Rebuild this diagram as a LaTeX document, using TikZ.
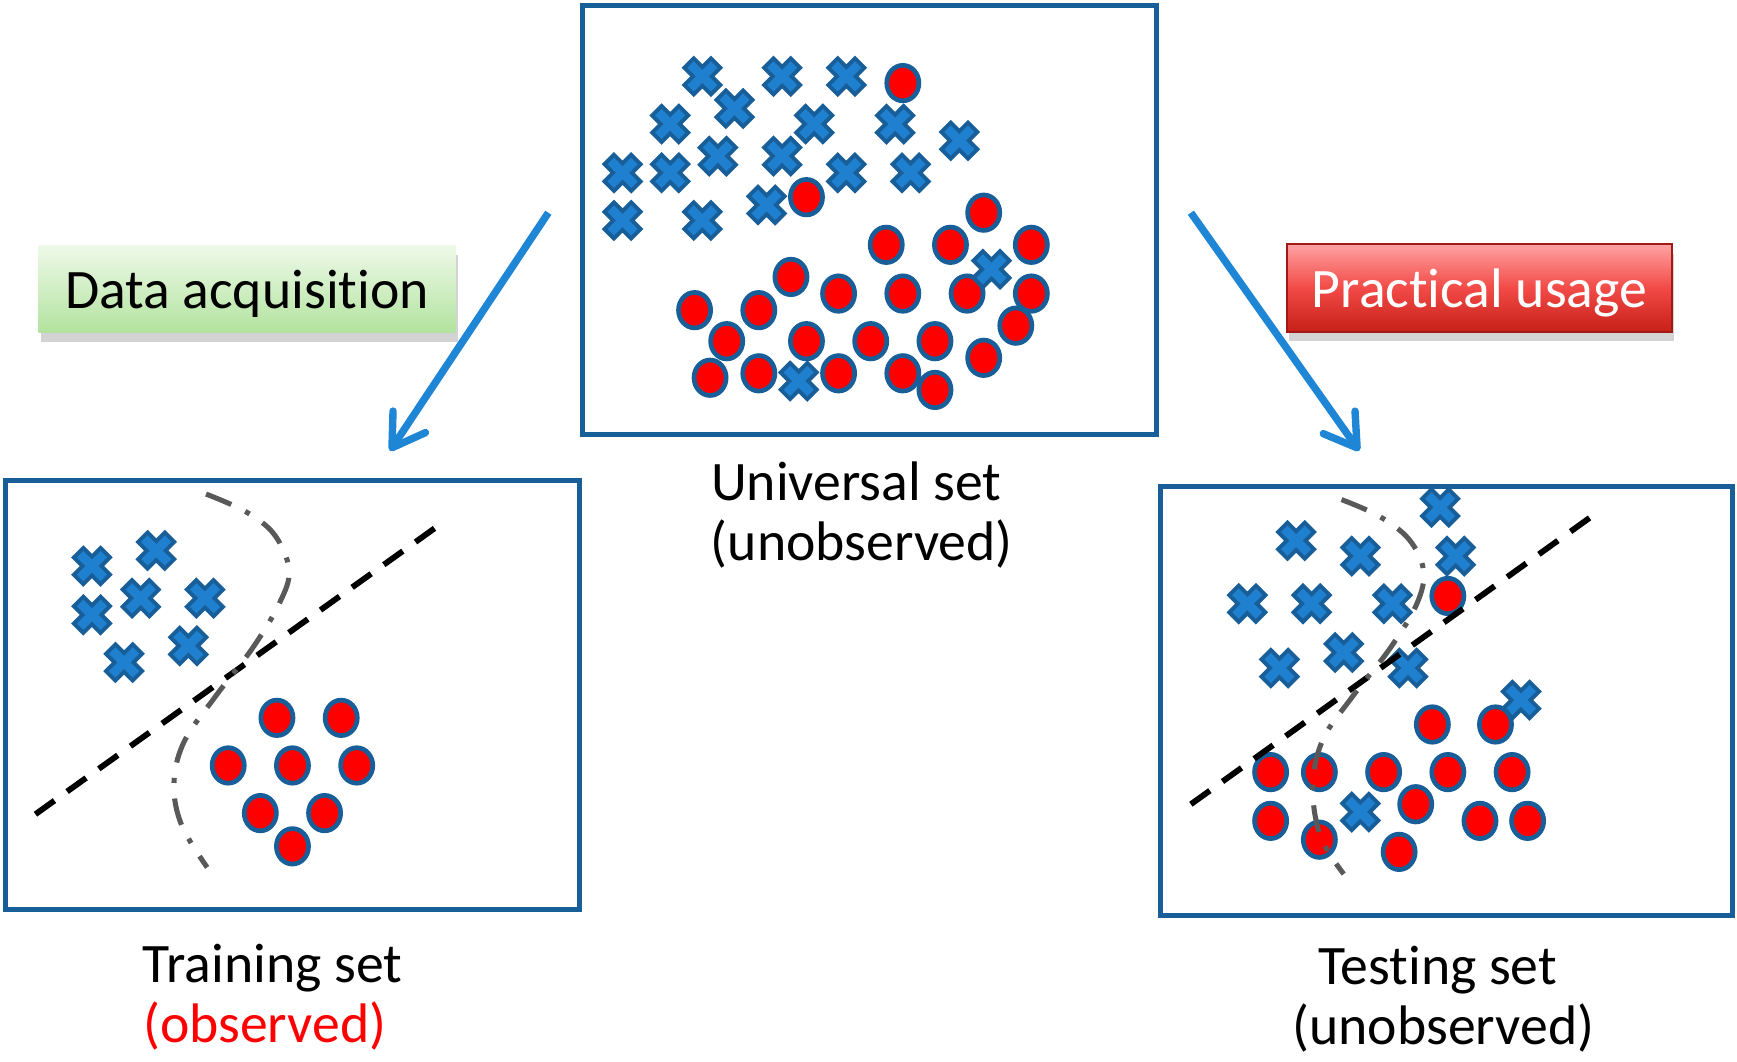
\documentclass[tikz,border=0pt]{standalone}
\usepackage{fontspec}
\setmainfont{Carlito}[Ligatures=NoCommon]
\usepackage{tikz}
\usetikzlibrary{arrows.meta, positioning, shadows}

\definecolor{frameblue}{RGB}{24,94,152}
\definecolor{crossfill}{RGB}{32,128,208}
\definecolor{arrowblue}{RGB}{31,134,214}
\definecolor{dotred}{RGB}{255,0,0}
\definecolor{curvegray}{RGB}{89,89,89}
\definecolor{greentop}{RGB}{238,249,233}
\definecolor{greenbot}{RGB}{178,227,158}
\definecolor{redtop}{RGB}{255,162,162}
\definecolor{redmid}{RGB}{242,74,70}
\definecolor{redbot}{RGB}{198,32,24}

\begin{document}
\begin{tikzpicture}[
        x=0.01cm, y=-0.01cm,
        font=\fontsize{14.3}{17}\selectfont,
        panel/.style={rectangle, draw=frameblue, line width=1.3pt, inner sep=0pt},
        tag/.style={rectangle, minimum height=0.79cm, inner sep=0pt, text height=11.5pt, text depth=1.3pt,
            drop shadow={shadow xshift=0.6pt, shadow yshift=-2.4pt, opacity=0.35}},
        caption/.style={anchor=base, inner sep=0pt},
        arrow/.style={draw=arrowblue, line width=1.9pt, -{Straight Barb[length=8pt, width=10pt, round]}},
        sample/.style={draw=frameblue, fill=dotred, line width=1.2pt},
        sepline/.style={draw=black, line width=1.5pt, dash pattern=on 6pt off 4pt},
        boundary/.style={draw=curvegray, line width=1.3pt, dash pattern=on 7pt off 4pt on 1.3pt off 4pt},
        xmark/.pic={\filldraw[draw=frameblue, fill=crossfill, line width=1pt, rotate=45]
            (6,17) -- (6,6) -- (17,6) -- (17,-6) -- (6,-6) -- (6,-17) -- (-6,-17) -- (-6,-6)
            -- (-17,-6) -- (-17,6) -- (-6,6) -- (-6,17) -- cycle;}
    ]
    \useasboundingbox (0,0) rectangle (1568,958);

    % Panels
    \node[panel, minimum width=5.18cm, minimum height=3.87cm] (universe) at (785,198.5) {};
    \node[panel, minimum width=5.18cm, minimum height=3.87cm] (train) at (264,627.5) {};
    \node[panel, minimum width=5.16cm, minimum height=3.87cm] (test) at (1306,632.5) {};

    % Captions
    \node[caption] (unitop) at (773,452) {Universal set};
    \node[caption] (unibot) at (778,506) {(unobserved)};
    \node[caption] (traintop) at (246,887) {Training set};
    \node[caption, text=red] (trainbot) at (239,941) {(observed)};
    \node[caption] (testtop) at (1298,889) {Testing set};
    \node[caption] (testbot) at (1303,943) {(unobserved)};

    % Tags
    \node[tag, minimum width=3.76cm, top color=greentop, bottom color=greenbot] (acquire) at (223,261) {Data acquisition};
    \node[tag, minimum width=3.47cm, draw=redbot!80!black, line width=0.4pt, top color=redtop, bottom color=redbot, middle color=redmid, text=white] (usage) at (1335.5,260) {Practical usage};

    % Arrows
    \coordinate (acqfrom) at (495,192);
    \coordinate (acqto) at (352,407);
    \coordinate (usefrom) at (1075,192);
    \coordinate (useto) at (1227,407);
    \draw[arrow] (acqfrom) -- (acqto);
    \draw[arrow] (usefrom) -- (useto);

    % Universal set samples
    \foreach \x/\y in {634/69, 706/69, 764/69, 663/98, 605/112, 735/112, 808/112, 866/127,
            562/156, 605/156, 648/141, 706/141, 764/156, 822/156, 562/199, 634/199, 692/185}
        \pic at (\x,\y) {xmark};
    \foreach \x/\y in {815/75, 728/178, 888/192, 800/221, 858/221, 931/221, 714/250, 757/265,
            815/265, 873/265, 931/265, 627/280, 685/280, 917/294, 656/308, 728/308, 786/308,
            844/308, 888/323, 641/341, 685/337, 757/337, 815/337, 844/352}
        \draw[sample] (\x,\y) ellipse [x radius=0.145cm, y radius=0.16cm];
    \foreach \x/\y in {895/243, 721/344}
        \pic at (\x,\y) {xmark};

    % Training set samples
    \foreach \x/\y in {83/511, 141/497, 127/540, 185/540, 83/555, 112/598, 170/583}
        \pic at (\x,\y) {xmark};
    \foreach \x/\y in {250/648, 308/648, 206/691, 264/691, 322/691, 235/734, 293/734, 264/764}
        \draw[sample] (\x,\y) ellipse [x radius=0.145cm, y radius=0.16cm];
    \draw[sepline] (32,735) -- (395,475);
    \draw[boundary] plot[smooth, tension=0.6] coordinates {(186,446) (222,462) (248,483) (261,515)
        (252,545) (228,585) (195,628) (166,670) (157,708) (164,745) (187,783)};

    % Testing set samples
    \foreach \x/\y in {1300/458, 1170/488, 1228/502, 1314/502, 1126/545, 1184/545, 1257/545,
            1213/589, 1155/603, 1271/603, 1373/632, 1228/733}
        \pic at (\x,\y) {xmark};
    \foreach \x/\y in {1307/538, 1293/654, 1350/654, 1147/697, 1191/697, 1249/697, 1307/697,
            1365/697, 1278/726, 1147/741, 1336/741, 1379/741, 1191/758, 1263/769}
        \draw[sample] (\x,\y) ellipse [x radius=0.145cm, y radius=0.16cm];
    \draw[sepline] (1075,726) -- (1437,466);
    \draw[boundary] plot[smooth, tension=0.6] coordinates {(1211,451) (1245,466) (1272,487) (1285,515)
        (1279,545) (1255,585) (1220,630) (1194,668) (1185,710) (1192,755) (1213,789)};

\end{tikzpicture}
\end{document}
